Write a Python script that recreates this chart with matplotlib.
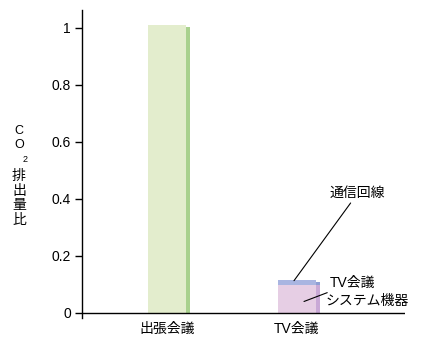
import matplotlib.pyplot as plt

plt.rcParams['font.family'] = ['Liberation Sans', 'Noto Sans CJK JP']

categories = ['出張会議', 'TV会議']
system_vals = [1.01, 0.098]   # 出張会議 bar / TV会議 システム機器
line_vals = [0.0, 0.018]      # 通信回線
yticks = [0, 0.2, 0.4, 0.6, 0.8, 1]
ytick_labels = ['0', '0.2', '0.4', '0.6', '0.8', '1']

face_colors = ['#e3edcd', '#e6cee4']
side_colors = ['#a9d18e', '#c9a9d6']
line_face = '#a9b5e1'
line_side = '#8f9fd4'

fig = plt.figure(figsize=(4.27, 3.37), dpi=100)
ax = fig.add_axes([82 / 427, 19 / 337, 323 / 427, 308 / 337])

px = 1 / 130.0  # data units per pixel along x
pos = [0, 1]
w = 38 * px
side = 4 * px
for i, x in enumerate(pos):
    ax.bar(x, system_vals[i], width=w, color=face_colors[i], align='center', zorder=2)
    ax.bar(x + w / 2 + side / 2, system_vals[i] + line_vals[i] - 0.008, width=side,
           color=side_colors[i], zorder=2)
    if line_vals[i] > 0:
        ax.bar(x, line_vals[i], bottom=system_vals[i], width=w, color=line_face, zorder=3)
        ax.bar(x + w / 2 + side / 2, line_vals[i] - 0.008, bottom=system_vals[i],
               width=side, color=line_side, zorder=3)

ax.set_xlim(-85 * px, 238 * px)
ax.set_ylim(-0.018, 1.063)
ax.axhline(0, color='black', lw=1, zorder=4)
for s in ['top', 'right', 'bottom']:
    ax.spines[s].set_visible(False)
ax.spines['left'].set_linewidth(1)
ax.set_yticks(yticks)
ax.set_yticklabels(ytick_labels, fontsize=10)
ax.tick_params(axis='y', length=5, width=1, pad=3)
ax.set_xticks([])

for x, lab in zip(pos, categories):
    ax.text(x, -0.03, lab, ha='center', va='top', fontsize=10)

# annotations
ax.annotate('通信回線', xy=(1 - 3 * px, 0.113), xytext=(1 + 33 * px, 0.42),
            fontsize=10, ha='left', va='center',
            arrowprops=dict(arrowstyle='-', color='black', lw=0.8, shrinkA=0, shrinkB=0))
ax.annotate('TV会議', xy=(1 + 7 * px, 0.04), xytext=(1 + 33 * px, 0.105),
            fontsize=10, ha='left', va='center',
            arrowprops=dict(arrowstyle='-', color='black', lw=0.8, shrinkA=0, shrinkB=0))
ax.text(1 + 29 * px, 0.042, 'システム機器', fontsize=10, ha='left', va='center')

# vertical y label
fig.text(19 / 427, 1 - 131 / 337, 'C', fontsize=9, ha='center', va='center')
fig.text(19 / 427, 1 - 145 / 337, 'O', fontsize=9, ha='center', va='center')
fig.text(25 / 427, 1 - 159 / 337, '2', fontsize=6.5, ha='center', va='center')
fig.text(19 / 427, 1 - 198 / 337, '排\n出\n量\n比', fontsize=10, ha='center', va='center',
         linespacing=1.05)

fig.savefig('out.png', dpi=100)
